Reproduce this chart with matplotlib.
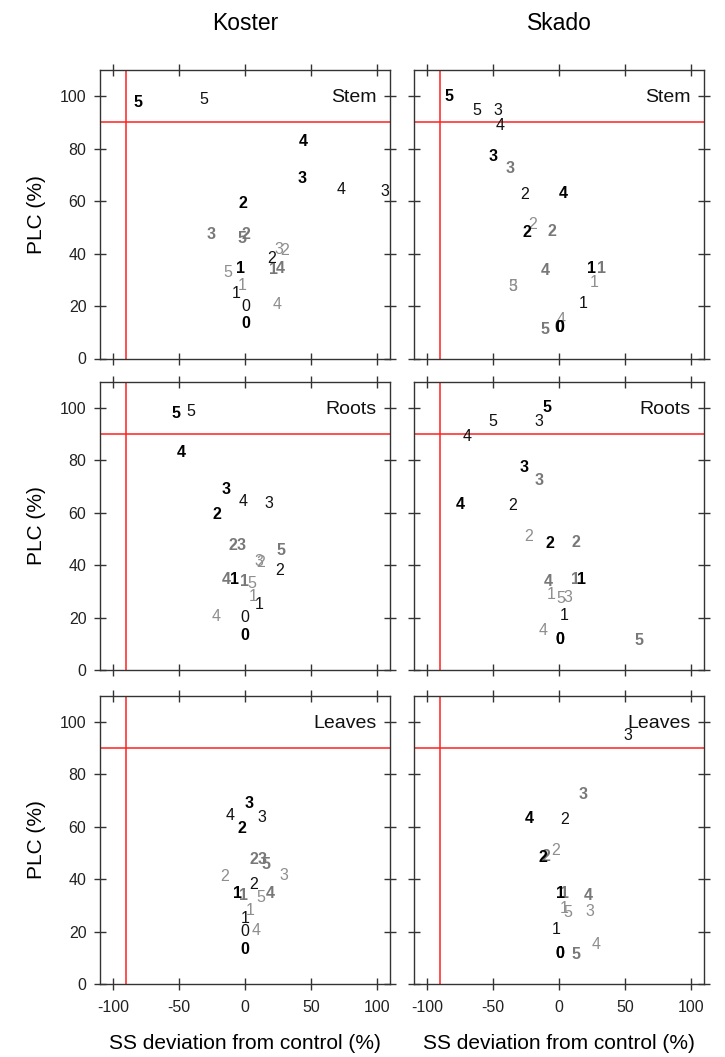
import numpy as np
import matplotlib
matplotlib.use("Agg")
import matplotlib.pyplot as plt

plt.rcParams['font.family'] = ['Liberation Sans', 'DejaVu Sans']
plt.rcParams['axes.unicode_minus'] = False

cultivars = ['Koster', 'Skado']
organs = ['Stem', 'Roots', 'Leaves']
times = [0, 1, 2, 3, 4, 5]
times_gray = [1, 2, 3, 4, 5]
x_ticks = [-100, -50, 0, 50, 100]
y_ticks = [0, 20, 40, 60, 80, 100]
x_threshold = -90
y_threshold = 90

# PLC (%) - same for every organ of a cultivar
koster_plc_black_bold = [13.3, 34.4, 59.1, 68.8, 82.8, 97.7]
koster_plc_black = [19.9, 24.8, 38.0, 63.6, 64.3, 98.6]
koster_plc_gray_bold = [33.9, 47.3, 47.3, 34.5, 45.6]
koster_plc_gray = [28.0, 41.0, 41.4, 20.4, 32.8]
skado_plc_black_bold = [11.7, 34.5, 48.1, 77.2, 63.1, 99.9]
skado_plc_black = [11.7, 20.8, 62.7, 94.7, 88.9, 94.6]
skado_plc_gray_bold = [34.5, 48.6, 72.4, 33.7, 11.2]
skado_plc_gray = [28.8, 51.0, 27.5, 14.9, 27.4]

# SS deviation from control (%)
nan = np.nan
koster_stem_ss_black_bold = [0.5, -3.3, -1.3, 43.4, 44.4, -81.2]
koster_stem_ss_black = [0.5, -6.4, 20.3, 106.5, 72.8, -31.0]
koster_stem_ss_gray_bold = [21.6, 0.5, -25.6, 26.6, -2.5]
koster_stem_ss_gray = [-1.8, 29.9, 25.4, 24.6, -13.2]

koster_roots_ss_black_bold = [0.0, -7.6, -21.5, -14.5, -48.2, -52.5]
koster_roots_ss_black = [0.0, 10.9, 26.1, 18.0, -1.8, -41.3]
koster_roots_ss_gray_bold = [-0.5, -9.4, -3.0, -13.9, 27.4]
koster_roots_ss_gray = [6.3, 12.2, 10.9, -22.1, 5.1]

koster_leaves_ss_black_bold = [0.0, -5.6, -2.5, 3.0, nan, nan]
koster_leaves_ss_black = [0.0, 0.5, 6.8, 12.7, -11.4, nan]
koster_leaves_ss_gray_bold = [-0.8, 7.1, 12.7, 19.0, 15.7]
koster_leaves_ss_gray = [4.3, -15.2, 29.7, 8.4, 12.2]

skado_stem_ss_black_bold = [0.5, 24.5, -24.2, -49.9, 3.0, -83.4]
skado_stem_ss_black = [0.0, 18.7, -25.9, -46.1, -44.9, -62.0]
skado_stem_ss_gray_bold = [32.5, -5.3, -37.3, -10.8, -10.8]
skado_stem_ss_gray = [27.0, -19.7, -34.8, 1.3, -34.8]

skado_roots_ss_black_bold = [0.5, 17.4, -6.5, -26.5, -75.1, -8.8]
skado_roots_ss_black = [0.5, 4.3, -35.3, -15.1, -69.6, -50.4]
skado_roots_ss_gray_bold = [12.4, 12.6, -15.4, -8.3, 60.5]
skado_roots_ss_gray = [-5.7, -22.7, 6.8, -12.1, 1.1]

skado_leaves_ss_black_bold = [0.5, 1.0, -12.1, nan, -22.9, nan]
skado_leaves_ss_black = [0.5, -2.5, 4.3, 52.2, nan, nan]
skado_leaves_ss_gray_bold = [4.3, -9.6, 18.2, 21.9, 13.2]
skado_leaves_ss_gray = [4.3, -2.7, 23.7, 27.8, 6.8]

plc = {
    'Koster': (koster_plc_black_bold, koster_plc_black, koster_plc_gray_bold, koster_plc_gray),
    'Skado': (skado_plc_black_bold, skado_plc_black, skado_plc_gray_bold, skado_plc_gray),
}
ss = {
    ('Koster', 'Stem'): (koster_stem_ss_black_bold, koster_stem_ss_black, koster_stem_ss_gray_bold, koster_stem_ss_gray),
    ('Koster', 'Roots'): (koster_roots_ss_black_bold, koster_roots_ss_black, koster_roots_ss_gray_bold, koster_roots_ss_gray),
    ('Koster', 'Leaves'): (koster_leaves_ss_black_bold, koster_leaves_ss_black, koster_leaves_ss_gray_bold, koster_leaves_ss_gray),
    ('Skado', 'Stem'): (skado_stem_ss_black_bold, skado_stem_ss_black, skado_stem_ss_gray_bold, skado_stem_ss_gray),
    ('Skado', 'Roots'): (skado_roots_ss_black_bold, skado_roots_ss_black, skado_roots_ss_gray_bold, skado_roots_ss_gray),
    ('Skado', 'Leaves'): (skado_leaves_ss_black_bold, skado_leaves_ss_black, skado_leaves_ss_gray_bold, skado_leaves_ss_gray),
}

# series styles: (index into tuples, labels, color, weight) drawn in this order
styles = [
    (3, times_gray, '#8e8e8e', 'normal'),
    (2, times_gray, '#787878', 'bold'),
    (1, times, '#111111', 'normal'),
    (0, times, '#000000', 'bold'),
]

W, H = 725, 1057
fig = plt.figure(figsize=(W / 100, H / 100), dpi=100)
fig.patch.set_facecolor('white')

col_left = [100, 414]
ax_w = 290
row_top = [70, 381.5, 695.5]
ax_h = 288.5
axis_col = '#333333'

for r, organ in enumerate(organs):
    for c, cult in enumerate(cultivars):
        ax = fig.add_axes([col_left[c] / W, 1 - (row_top[r] + ax_h) / H, ax_w / W, ax_h / H])
        ax.set_xlim(-110, 110)
        ax.set_ylim(0, 110)
        ax.set_xticks(x_ticks)
        ax.set_yticks(y_ticks)
        ax.tick_params(axis='both', direction='inout', length=8.5, width=1.0,
                       color=axis_col, labelsize=11.5, labelcolor='#222222',
                       top=True, right=True)
        ax.tick_params(axis='x', pad=7)
        ax.tick_params(axis='y', pad=5.5)
        ax.tick_params(labelleft=(c == 0), labelbottom=(r == 2))
        for sp in ax.spines.values():
            sp.set_color(axis_col)
            sp.set_linewidth(1.0)
        ax.axvline(x_threshold, color='#ff2020', lw=1.1, zorder=1)
        ax.axhline(y_threshold, color='#ff2020', lw=1.1, zorder=1)
        ax.text(99.5, 99.5, organ, ha='right', va='center', fontsize=14, color='#111111', zorder=2)
        xs_all = ss[(cult, organ)]
        ys_all = plc[cult]
        for idx, labels, col, wt in styles:
            for lab, xv, yv in zip(labels, xs_all[idx], ys_all[idx]):
                if np.isnan(xv):
                    continue
                ax.text(xv, yv, str(lab), ha='center', va='center', fontsize=11.5,
                        color=col, fontweight=wt, clip_on=True, zorder=3)
        if c == 0:
            ax.set_ylabel('PLC (%)', fontsize=15, labelpad=10)
        if r == 2:
            ax.set_xlabel('SS deviation from control (%)', fontsize=15, labelpad=14)
        if r == 0:
            ax.set_title(cult, fontsize=16.5, pad=29)

fig.savefig('out.png', dpi=100, facecolor='white')
